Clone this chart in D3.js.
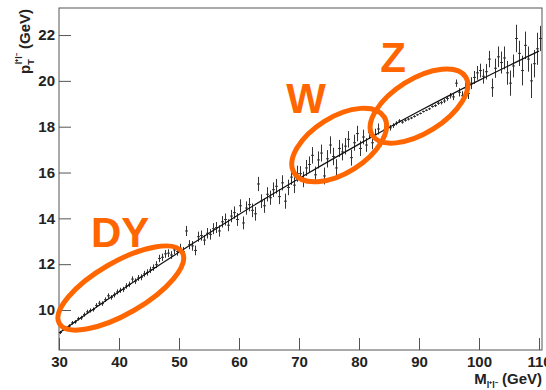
<!DOCTYPE html>
<html>
<head>
<meta charset="utf-8">
<script src="https://cdn.jsdelivr.net/npm/d3@7"></script>
<style>
  body { margin: 0; background: #fff; }
  text { font-family: "Liberation Sans", Arial, sans-serif; font-weight: bold; }
</style>
</head>
<body>
<div id="chart"></div>
<script>
// dilepton mass binning (GeV): 0.5 GeV bins starting at 30
var binLow = 30, binWidth = 0.5;

// mean pT of the pair in each mass bin
var ptMean = [
  9.02, 9.16, 9.20, 9.30, 9.44, 9.48, 9.62, 9.66, 9.80, 9.92,
  9.98, 10.02, 10.20, 10.30, 10.28, 10.45, 10.62, 10.55, 10.66, 10.79,
  10.86, 10.90, 11.05, 11.12, 11.35, 11.26, 11.40, 11.43, 11.58, 11.64,
  11.75, 11.85, 11.98, 12.25, 12.30, 12.45, 12.48, 12.40, 12.62, 12.55,
  12.70, 12.55, 13.45, 12.85, 12.80, 12.60, 13.20, 13.25, 13.05, 13.35,
  13.30, 13.55, 13.60, 13.45, 13.85, 13.95, 13.70, 14.10, 14.25, 13.95,
  14.55, 13.80, 14.45, 14.60, 14.35, 14.20, 15.50, 14.75, 14.55, 15.05,
  14.90, 15.25, 15.40, 14.95, 15.55, 14.75, 15.35, 15.80, 15.45, 15.95,
  15.95, 15.70, 16.20, 16.35, 16.75, 15.90, 16.55, 16.85, 15.85, 16.60,
  17.20, 16.70, 16.20, 17.05, 16.90, 17.15, 17.45, 16.65, 17.30, 17.70,
  17.05, 17.55, 17.20, 17.75, 17.30, 17.65, 17.90, 17.35, 17.85, 18.00,
  17.95, 18.05, 18.15, 18.25, 18.20, 18.28, 18.33, 18.38, 18.45, 18.52,
  18.58, 18.66, 18.72, 18.78, 18.88, 18.92, 19.02, 19.05, 19.12, 19.23,
  19.35, 19.30, 19.90, 19.50, 19.35, 19.70, 19.45, 19.90, 20.15, 20.35,
  20.45, 20.20, 20.40, 20.95, 19.70, 20.55, 21.05, 20.80, 21.00, 20.35,
  19.90, 20.65, 21.85, 21.20, 20.45, 21.55, 20.95, 20.00, 20.75, 21.40, 21.85
];

// error on the mean
var ptError = [
  0.07, 0.07, 0.07, 0.08, 0.08, 0.08, 0.08, 0.09, 0.09, 0.09,
  0.09, 0.09, 0.10, 0.10, 0.10, 0.10, 0.11, 0.10, 0.11, 0.11,
  0.11, 0.11, 0.12, 0.12, 0.12, 0.12, 0.13, 0.13, 0.13, 0.14,
  0.14, 0.14, 0.15, 0.16, 0.16, 0.17, 0.17, 0.17, 0.18, 0.18,
  0.19, 0.20, 0.22, 0.20, 0.21, 0.21, 0.22, 0.22, 0.22, 0.23,
  0.23, 0.24, 0.24, 0.25, 0.25, 0.26, 0.26, 0.27, 0.27, 0.28,
  0.28, 0.28, 0.29, 0.29, 0.30, 0.30, 0.31, 0.30, 0.31, 0.31,
  0.31, 0.32, 0.32, 0.33, 0.33, 0.33, 0.34, 0.34, 0.35, 0.35,
  0.33, 0.34, 0.35, 0.35, 0.36, 0.36, 0.37, 0.37, 0.37, 0.38,
  0.38, 0.38, 0.38, 0.37, 0.37, 0.36, 0.36, 0.35, 0.35, 0.34,
  0.33, 0.32, 0.30, 0.29, 0.28, 0.26, 0.24, 0.21, 0.18, 0.15,
  0.12, 0.10, 0.09, 0.08, 0.07, 0.06, 0.06, 0.05, 0.05, 0.04,
  0.04, 0.04, 0.04, 0.05, 0.05, 0.06, 0.07, 0.08, 0.09, 0.10,
  0.12, 0.14, 0.16, 0.18, 0.20, 0.22, 0.24, 0.26, 0.28, 0.30,
  0.30, 0.32, 0.34, 0.36, 0.40, 0.42, 0.45, 0.48, 0.50, 0.52,
  0.55, 0.50, 0.60, 0.55, 0.65, 0.60, 0.55, 0.75, 0.60, 0.70, 0.55
];

// fitted curve
var fitMass = [30, 40, 50, 60, 70, 80, 90, 100, 110];
var fitPt = [9.00, 10.80, 12.52, 14.17, 15.74, 17.24, 18.67, 20.02, 21.30];

var xTicks = [30, 40, 50, 60, 70, 80, 90, 100, 110];
var xMinor = d3.range(30, 111, 2);
var yTicks = [10, 12, 14, 16, 18, 20, 22];
var yMinor = d3.range(8.5, 23.1, 0.5);

// hand drawn regions
var regionNames = ["DY", "W", "Z"];
var regionMass = [40.3, 76.7, 90.0];
var regionPt = [10.96, 17.2, 18.9];
var labelMass = [40.2, 71.2, 85.7];
var labelPt = [12.75, 18.6, 20.39];

var width = 546, height = 390;
var margin = {left: 59, right: 4, top: 8, bottom: 40};
var orange = "#ff6600";

var x = d3.scaleLinear().domain([30, 110.5]).range([margin.left, width - margin.right]);
var y = d3.scaleLinear().domain([8.255, 23.18]).range([height - margin.bottom, margin.top]);

var svg = d3.select("#chart").append("svg")
  .attr("width", width)
  .attr("height", height);

// ticks point into the frame, ROOT style
var gx = svg.append("g").attr("transform", "translate(0," + y.range()[0] + ")");
gx.call(d3.axisBottom(x).tickValues(xMinor).tickSize(-6).tickFormat(""));
gx.call(d3.axisBottom(x).tickValues(xTicks).tickSize(-12).tickPadding(6));
var gy = svg.append("g").attr("transform", "translate(" + x.range()[0] + ",0)");
gy.call(d3.axisLeft(y).tickValues(yMinor).tickSize(-6).tickFormat(""));
gy.call(d3.axisLeft(y).tickValues(yTicks).tickSize(-12).tickPadding(4));

svg.selectAll(".domain").remove();
svg.selectAll(".tick line").attr("stroke", "#555");
svg.selectAll(".tick text")
  .attr("font-size", 15)
  .attr("font-family", "Liberation Sans, Arial, sans-serif")
  .attr("fill", "#222");

// frame
svg.append("rect")
  .attr("x", x.range()[0]).attr("y", y.range()[1])
  .attr("width", x.range()[1] - x.range()[0])
  .attr("height", y.range()[0] - y.range()[1])
  .attr("fill", "none")
  .attr("stroke", "#555");

// error bars, one per bin
var bins = svg.append("g").selectAll("g")
  .data(ptMean)
  .enter().append("g")
  .attr("stroke", "#333")
  .attr("stroke-width", 1);

bins.append("line")
  .attr("x1", function (d, i) { return x(binLow + (i + 0.5) * binWidth); })
  .attr("x2", function (d, i) { return x(binLow + (i + 0.5) * binWidth); })
  .attr("y1", function (d, i) { return y(d - ptError[i]); })
  .attr("y2", function (d, i) { return y(d + ptError[i]); });

bins.append("line")
  .attr("x1", function (d, i) { return x(binLow + i * binWidth); })
  .attr("x2", function (d, i) { return x(binLow + (i + 1) * binWidth); })
  .attr("y1", function (d) { return y(d); })
  .attr("y2", function (d) { return y(d); });

// fit
var line = d3.line()
  .x(function (d, i) { return x(fitMass[i]); })
  .y(function (d) { return y(d); })
  .curve(d3.curveMonotoneX);

svg.append("path")
  .attr("d", line(fitPt))
  .attr("fill", "none")
  .attr("stroke", "#111")
  .attr("stroke-width", 1.2);

// orange ellipses and labels
var ellipseSize = [[71, 26, -30], [53, 28, -32], [55, 27, -32]];

svg.selectAll(".region")
  .data(regionNames)
  .enter().append("ellipse")
  .attr("class", "region")
  .attr("transform", function (d, i) {
    return "translate(" + x(regionMass[i]) + "," + y(regionPt[i]) + ") rotate(" + ellipseSize[i][2] + ")";
  })
  .attr("rx", function (d, i) { return ellipseSize[i][0]; })
  .attr("ry", function (d, i) { return ellipseSize[i][1]; })
  .attr("fill", "none")
  .attr("stroke", orange)
  .attr("stroke-width", 5);

svg.selectAll(".regionLabel")
  .data(regionNames)
  .enter().append("text")
  .attr("class", "regionLabel")
  .attr("x", function (d, i) { return x(labelMass[i]); })
  .attr("y", function (d, i) { return y(labelPt[i]); })
  .attr("text-anchor", "middle")
  .attr("font-size", 42)
  .attr("fill", orange)
  .text(function (d) { return d; });

// axis titles
var xt = svg.append("text")
  .attr("x", 542).attr("y", 384)
  .attr("text-anchor", "end")
  .attr("font-size", 15)
  .attr("fill", "#222");
xt.append("tspan").text("M");
xt.append("tspan").attr("font-size", 9).attr("dy", 4).text("l\u207Al\u207B");
xt.append("tspan").attr("dy", -4).text(" (GeV)");

var yt = svg.append("text")
  .attr("transform", "translate(30,9) rotate(-90)")
  .attr("text-anchor", "end")
  .attr("font-size", 15)
  .attr("fill", "#222");
yt.append("tspan").text("p");
yt.append("tspan").attr("font-size", 9).attr("dy", 4).text("T");
yt.append("tspan").attr("font-size", 9).attr("dx", -5).attr("dy", -12).text("l\u207Al\u207B");
yt.append("tspan").attr("dy", 8).text(" (GeV)");
</script>
</body>
</html>
